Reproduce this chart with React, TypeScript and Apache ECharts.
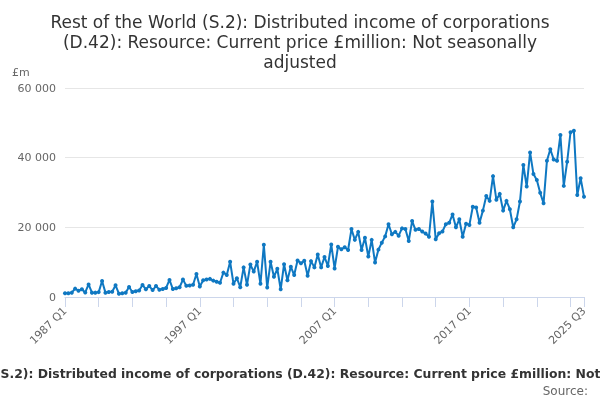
import React, { useRef, useEffect } from 'react';
import * as echarts from 'echarts';

// quarterly labels 1987 Q1 .. 2025 Q3
const quarters: string[] = [];
for (let y = 1987; y <= 2025; y++) {
  for (let q = 1; q <= 4; q++) {
    if (y === 2025 && q > 3) break;
    quarters.push(`${y} Q${q}`);
  }
}

// £ million
const values = [
  1050, 1050, 1250, 2400, 1800, 2200, 1300, 3600, 1250, 1250,
  1400, 4600, 1250, 1450, 1500, 3350, 950, 1050, 1250, 2870,
  1450, 1650, 1850, 3450, 2200, 3150, 2000, 3150, 2100, 2300,
  2600, 4900, 2300, 2500, 2800, 5000, 3200, 3300, 3500, 6600,
  3000, 4800, 5000, 5200, 4700, 4400, 4100, 7000, 6300, 10100,
  3800, 5400, 2800, 8500, 3500, 9300, 7300, 10100, 3800, 15000,
  2700, 10100, 5800, 8100, 2200, 9400, 4800, 8700, 6300, 10500,
  9700, 10400, 6100, 10300, 8500, 12200, 8500, 11500, 8900, 15100,
  8200, 14400, 13700, 14300, 13500, 19500, 16400, 18700, 13500, 17000,
  11600, 16400, 9900, 13600, 15600, 17400, 20900, 18000, 18700, 17600,
  19700, 19500, 16100, 21800, 19300, 19500, 18800, 18200, 17300, 27400,
  16600, 18300, 18800, 20900, 21300, 23700, 20000, 22300, 17300, 21000,
  20700, 25900, 25700, 21300, 24800, 29000, 27600, 34700, 27900, 29600,
  24800, 27600, 25200, 20000, 22300, 27400, 37900, 31700, 41500, 35300,
  33600, 29900, 26900, 39100, 42400, 39500, 39100, 46500, 31900, 38800,
  47300, 47700, 29300, 34100, 28800,
];

const titleLines = [
  'Rest of the World (S.2): Distributed income of corporations',
  '(D.42): Resource: Current price £million: Not seasonally',
  'adjusted',
];
const seriesName =
  'Rest of the World (S.2): Distributed income of corporations (D.42): Resource: Current price £million: Not seasonally adjusted';

const fmt = (v: number) => String(v).replace(/\B(?=(\d{3})+(?!\d))/g, ' ');

export default function App() {
  const chartRef = useRef<HTMLDivElement>(null);

  useEffect(() => {
    if (!chartRef.current) return;
    const chart = echarts.init(chartRef.current, null, { renderer: 'svg' });
    const last = quarters.length - 1;

    chart.setOption({
      animation: false,
      textStyle: { fontFamily: 'DejaVu Sans' },
      title: {
        text: titleLines.join('\n'),
        left: 'center',
        top: 7,
        textStyle: {
          fontSize: 17,
          fontWeight: 'normal',
          color: '#333',
          lineHeight: 20,
          fontFamily: 'DejaVu Sans',
        },
      },
      graphic: [
        {
          type: 'text',
          left: 12,
          top: 67,
          style: { text: '£m', fontSize: 11, fill: '#666', fontFamily: 'DejaVu Sans' },
        },
        {
          type: 'text',
          x: 306,
          y: 373,
          style: {
            text: seriesName,
            fontSize: 12.4,
            fontWeight: 'bold',
            fill: '#333',
            align: 'center',
            verticalAlign: 'middle',
            fontFamily: 'DejaVu Sans',
          },
        },
        {
          type: 'text',
          x: 588,
          y: 391,
          style: {
            text: 'Source:',
            fontSize: 12,
            fill: '#666',
            align: 'right',
            verticalAlign: 'middle',
            fontFamily: 'DejaVu Sans',
          },
        },
      ],
      grid: { left: 65, right: 16, top: 88, bottom: 103 },
      xAxis: {
        type: 'category',
        data: quarters,
        boundaryGap: false,
        axisLine: { lineStyle: { color: '#ccd6eb' } },
        axisTick: {
          length: 10,
          lineStyle: { color: '#ccd6eb' },
          interval: (i: number) => i % 10 === 0 || i === last,
        },
        axisLabel: {
          rotate: 45,
          margin: 12,
          fontSize: 11,
          color: '#666',
          interval: (i: number) => i % 40 === 0 || i === last,
        },
      },
      yAxis: {
        type: 'value',
        min: 0,
        max: 60000,
        interval: 20000,
        axisLine: { show: false },
        axisTick: { show: false },
        axisLabel: { fontSize: 11, color: '#666', margin: 9, formatter: (v: number) => fmt(v) },
        splitLine: { lineStyle: { color: '#e6e6e6' } },
      },
      series: [
        {
          name: seriesName,
          type: 'line',
          data: values,
          symbol: 'circle',
          symbolSize: 4,
          showAllSymbol: true,
          lineStyle: { color: '#0f78c2', width: 2 },
          itemStyle: { color: '#0f78c2' },
        },
      ],
    });

    return () => chart.dispose();
  }, []);

  return (
    <div
      ref={chartRef}
      style={{ position: 'fixed', left: 0, top: 0, width: '600px', height: '400px' }}
    />
  );
}
